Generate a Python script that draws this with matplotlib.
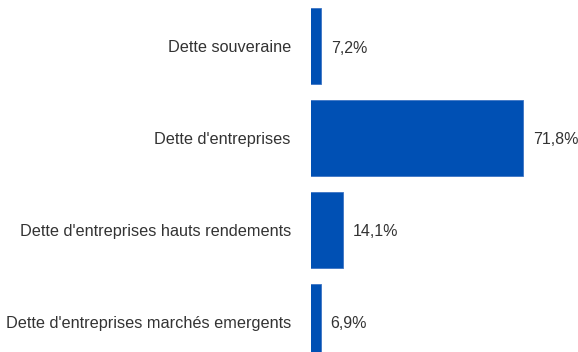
import matplotlib.pyplot as plt

categories = [
    "Dette souveraine",
    "Dette d'entreprises",
    "Dette d'entreprises hauts rendements",
    "Dette d'entreprises marchés emergents",
]
values = [7.2, 71.8, 14.1, 6.9]
value_labels = ["7,2%", "71,8%", "14,1%", "6,9%"]

plt.rcParams['font.family'] = ['Liberation Sans', 'DejaVu Sans']

fig = plt.figure(figsize=(5.78, 3.52), dpi=100)
ax = fig.add_axes([311 / 578, 0, 267 / 578, 1])

pos = range(len(categories))
ax.barh(pos, values, height=0.827, color='#0050b4', edgecolor='#3d74c4', linewidth=0.6)

ax.set_xlim(3.85, 3.85 + 267 / 3.12)
ax.set_ylim(3.33, -0.5)

ax.set_yticks(list(pos))
ax.set_yticklabels(categories, fontsize=11.7, color='#333333')
ax.tick_params(axis='y', length=0, pad=14.5)
ax.set_xticks([])

for i, (v, lab) in enumerate(zip(values, value_labels)):
    ax.annotate(lab, (v, i), xytext=(7, -1.5), textcoords='offset points',
                va='center', ha='left', fontsize=11.5, color='#333333')

for s in ax.spines.values():
    s.set_visible(False)

fig.savefig('out.png', dpi=100)
